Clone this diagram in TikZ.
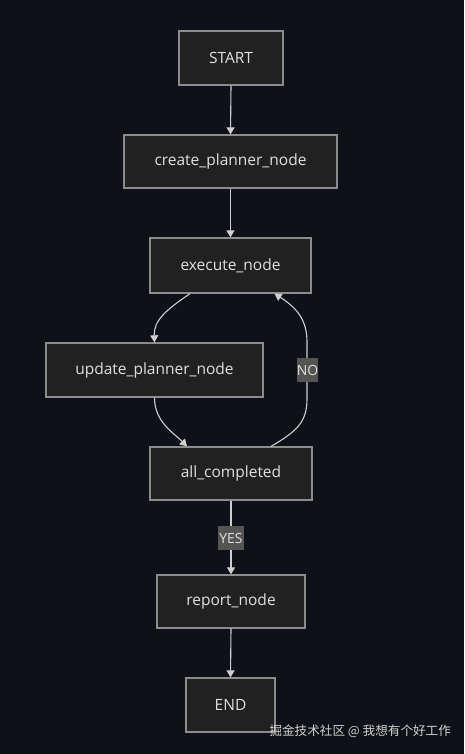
\documentclass[tikz,border=0pt]{standalone}
\usepackage{fontspec}
\setmainfont{Open Sans}
\newfontfamily\cjk{Noto Sans CJK SC}
\usetikzlibrary{arrows.meta,calc}
\definecolor{bgc}{HTML}{0E1117}
\definecolor{boxfill}{HTML}{212121}
\definecolor{boxline}{HTML}{8C8C8C}
\definecolor{txt}{HTML}{E2E0DA}
\definecolor{edgec}{HTML}{CFCFCF}
\definecolor{lblbg}{HTML}{545454}
\tikzset{
  box/.style={draw=boxline, fill=boxfill, line width=1.3pt, text=txt,
    font=\fontsize{15.5}{18}\selectfont, inner sep=0pt, anchor=center},
  conn/.style={draw=edgec, line width=1.1pt, -{Triangle[width=8pt,length=7pt]}},
  lbl/.style={fill=lblbg, text=txt, font=\fontsize{14}{16}\selectfont, inner sep=1.5pt,
    minimum height=24pt},
}
\begin{document}
\begin{tikzpicture}[x=1pt,y=-1pt]
\fill[bgc] (0,0) rectangle (464,754);
\useasboundingbox (0,0) rectangle (464,754);

\node[box, minimum width=104pt, minimum height=54pt] (start) at (231,58) {START};
\node[box, minimum width=213pt, minimum height=53pt] (create) at (230.5,161.5) {create\_planner\_node};
\node[box, minimum width=161pt, minimum height=55pt] (exe) at (230.5,265.5) {execute\_node};
\node[box, minimum width=217pt, minimum height=54pt] (upd) at (154.5,370) {update\_planner\_node};
\node[box, minimum width=162pt, minimum height=53pt] (all) at (231,473.5) {all\_completed};
\node[box, minimum width=148pt, minimum height=53pt] (rep) at (231,601.5) {report\_node};
\node[box, minimum width=89pt, minimum height=54pt] (fin) at (230.5,705) {END};

\draw[conn] (start.south) -- (create.north);
\draw[conn] (create.south) -- (exe.north);
\draw[conn] ($(exe.south)+(-40.5,0)$) .. controls ($(exe.south)+(-64,16)$) and ($(upd.north)+(-1,-22)$) .. (upd.north);
\draw[conn] (upd.south) .. controls ($(upd.south)+(0,24)$) and ($(all.north)+(-58,-14)$) .. ($(all.north)+(-44,0)$);
\draw[conn] ($(all.north)+(40,0)$) .. controls ($(all.north)+(68,-16)$) and ($(all.north)+(76,-26)$) .. ($(all.north)+(76,-48)$)
  -- ($(exe.south)+(76.5,48)$) .. controls ($(exe.south)+(76.5,26)$) and ($(exe.south)+(66,14)$) .. ($(exe.south)+(44,0)$);
\node[lbl, minimum width=21pt, inner sep=0pt] (no) at (307.5,370) {NO};
\draw[conn] (all.south) -- (rep.north);
\node[lbl] (yes) at (231,538) {YES};
\draw[conn] (rep.south) -- (fin.north);

\node[text=txt!85!gray, font=\cjk\fontsize{12.6}{14}\selectfont, anchor=west] (wm) at (266,731) {掘金技术社区 @ 我想有个好工作};
\end{tikzpicture}
\end{document}
